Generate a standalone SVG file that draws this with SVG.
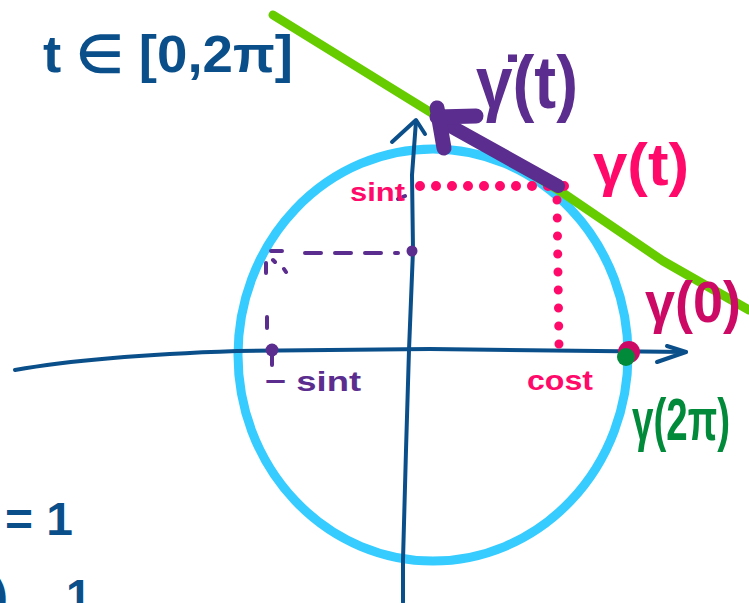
<svg xmlns="http://www.w3.org/2000/svg" width="749" height="603" viewBox="0 0 749 603">
<style>
.ink{fill:none;stroke-linecap:round;stroke-linejoin:round}
.axis{stroke:#0b4f8a;stroke-width:4}
.lbl{font-family:"Liberation Sans",Arial,sans-serif;font-weight:bold}
.blue{fill:#0b4f8a}
.purple{fill:#5b2d8e}
.pink{fill:#ff0a6a}
.crimson{fill:#cc0a66}
.green{fill:#008a3a}
</style>
<rect width="749" height="603" fill="#ffffff"/>
<g id="circle">
<ellipse cx="433" cy="355" rx="195" ry="206" class="ink" stroke="#36ccff" stroke-width="9"/>
</g>
<g id="connectors">
<path id="x-axis" class="ink axis" d="M15,370 C60,362 120,355 237,351 L430,349 L686,352"/>
<path class="ink axis" d="M667,346 L686,352 L657,362"/>
<path id="y-axis" class="ink axis" d="M403,602 L403,560 L406,450 L409,350 L413,250 L412,175 L416,121"/>
<path class="ink axis" d="M392,142 L416,120 L425,134"/>
<path id="tangent" class="ink" stroke="#66cc00" stroke-width="9" d="M273,15 L430,112 L563,193 L663,261 L749,310"/>
<path id="sin-dots" class="ink" stroke="#ff0a6a" stroke-width="10" stroke-dasharray="0 16" d="M420,186 L566,186"/>
<path id="cos-dots" class="ink" stroke="#ff0a6a" stroke-width="9" stroke-dasharray="0 18" d="M557,200 L559,346"/>
<path id="neg-h" class="ink" stroke="#5b2d8e" stroke-width="4" stroke-dasharray="16 14" d="M305,253 L398,253"/>
<path class="ink" stroke="#5b2d8e" stroke-width="4" d="M271,251 L282,251 M266,263 L266,273 M273,260 L275,262 M284,269 L286,272 M267,317 L267,328 M272,355 L272,365 M398,199 L405,196"/>
<circle cx="412" cy="251" r="5.5" fill="#5b2d8e"/>
<circle cx="272" cy="350" r="6.5" fill="#5b2d8e"/>
<path id="velocity" class="ink" stroke="#5b2d8e" stroke-width="14" d="M558,186 L443,122"/>
<path class="ink" stroke="#5b2d8e" stroke-width="15" d="M437,108 L444,148 M437,117 L476,116"/>
</g>
<g id="point">
<circle cx="629" cy="352" r="11" fill="#cc0a66"/>
<circle cx="626" cy="357" r="9" fill="#008a3a"/>
</g>
<g id="labels">
<text class="lbl blue" x="43" y="72" font-size="52" textLength="250" lengthAdjust="spacingAndGlyphs">t ∈ [0,2π]</text>
<text class="lbl purple" x="476" y="108" font-size="74" textLength="102" lengthAdjust="spacingAndGlyphs">γ̇(t)</text>
<text class="lbl pink" x="593" y="185" font-size="60" textLength="96" lengthAdjust="spacingAndGlyphs">γ(t)</text>
<text class="lbl pink" x="350" y="201" font-size="26" textLength="55" lengthAdjust="spacingAndGlyphs">sint</text>
<text class="lbl crimson" x="645" y="322" font-size="58" textLength="96" lengthAdjust="spacingAndGlyphs">γ(0)</text>
<text class="lbl green" x="632" y="440" font-size="60" textLength="98" lengthAdjust="spacingAndGlyphs">γ(2π)</text>
<text class="lbl pink" x="527" y="390" font-size="28" textLength="66" lengthAdjust="spacingAndGlyphs">cost</text>
<text class="lbl purple" x="265" y="391" font-size="28" textLength="96" lengthAdjust="spacingAndGlyphs">− sint</text>
<text class="lbl blue" x="5" y="535" font-size="46" textLength="68" lengthAdjust="spacingAndGlyphs">= 1</text>
<text class="lbl blue" x="-8" y="612" font-size="48">)</text>
<text class="lbl blue" x="66" y="612" font-size="46">1</text>
</g>
</svg>
